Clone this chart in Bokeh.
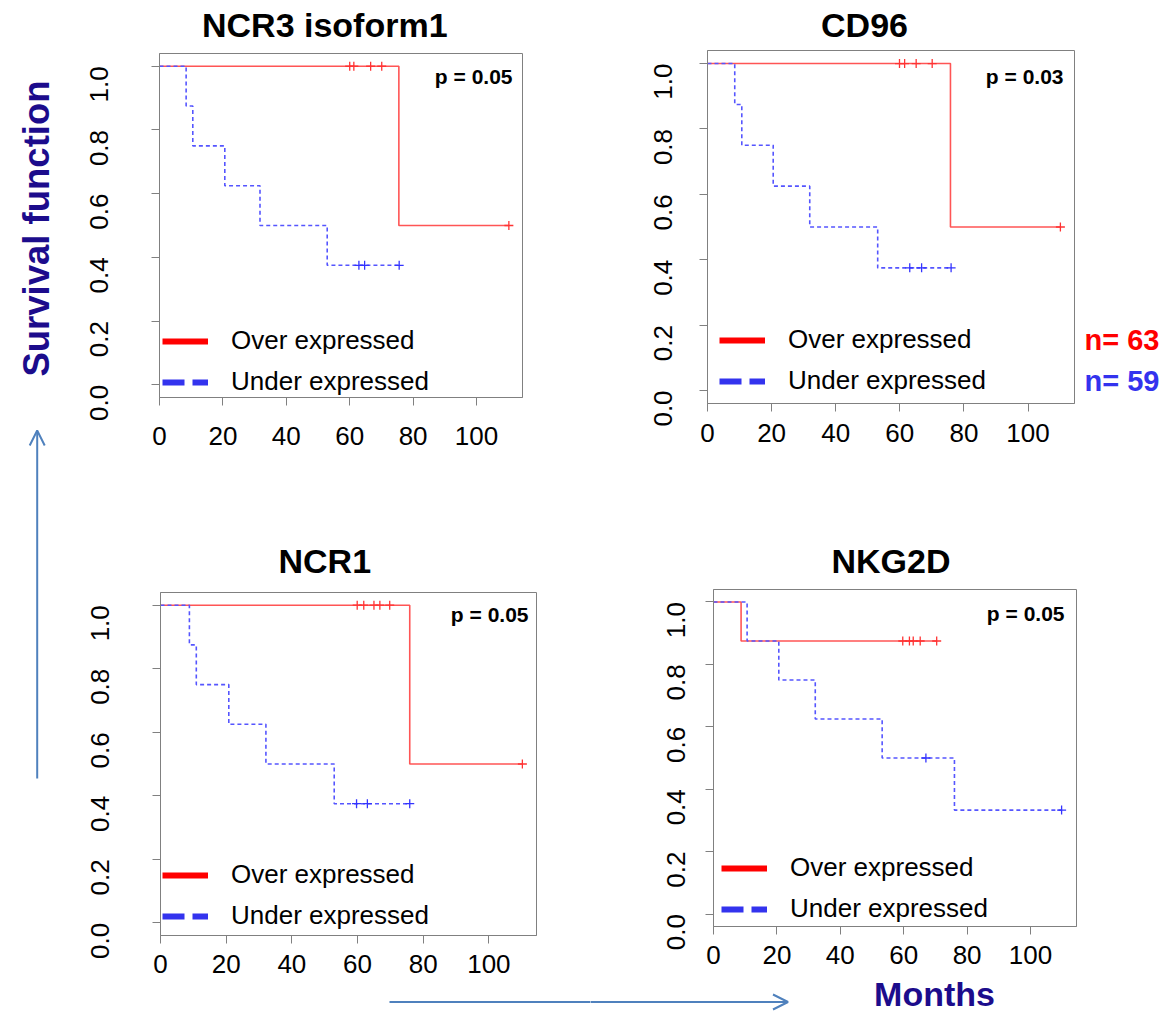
import numpy as np
from bokeh.plotting import figure
from bokeh.models import (Range1d, FixedTicker, Label, Legend, LegendItem, Arrow,
                          OpenHead, PrintfTickFormatter)
from bokeh.layouts import row, column
from bokeh.embed import file_html
from bokeh.resources import INLINE

# ---------------- data ----------------
titles = ["NCR3  isoform1", "CD96", "NCR1", "NKG2D"]
p_values = ["p = 0.05", "p = 0.03", "p = 0.05", "p = 0.05"]
legend_labels = ["Over expressed", "Under expressed"]
x_ticks = [0, 20, 40, 60, 80, 100]
y_ticks = [0.0, 0.2, 0.4, 0.6, 0.8, 1.0]
n_labels = ["n= 63", "n= 59"]
y_title = "Survival function"
x_title = "Months"

# NCR3 isoform1
ncr3_over_t = [0, 75.5, 110.2]
ncr3_over_s = [1.0, 0.5, 0.5]
ncr3_over_cens = [60.0, 61.3, 66.6, 70.1, 110.2]
ncr3_under_t = [0, 8.4, 10.5, 20.6, 31.7, 52.9, 75.6]
ncr3_under_s = [1.0, 0.875, 0.75, 0.625, 0.5, 0.375, 0.375]
ncr3_under_cens = [62.9, 64.7, 75.6]

# CD96
cd96_over_t = [0, 75.8, 110.1]
cd96_over_s = [1.0, 0.5, 0.5]
cd96_over_cens = [59.9, 61.5, 65.1, 70.1, 110.1]
cd96_under_t = [0, 8.5, 10.7, 20.5, 31.9, 53.1, 76.0]
cd96_under_s = [1.0, 0.875, 0.75, 0.625, 0.5, 0.375, 0.375]
cd96_under_cens = [63.1, 66.8, 76.0]

# NCR1
ncr1_over_t = [0, 75.9, 110.2]
ncr1_over_s = [1.0, 0.5, 0.5]
ncr1_over_cens = [59.9, 61.9, 65.0, 66.8, 69.8, 110.2]
ncr1_under_t = [0, 8.8, 10.9, 20.8, 32.1, 52.9, 75.9]
ncr1_under_s = [1.0, 0.875, 0.75, 0.625, 0.5, 0.375, 0.375]
ncr1_under_cens = [59.7, 63.0, 75.9]

# NKG2D
nkg2d_over_t = [0, 8.7, 70.4]
nkg2d_over_s = [1.0, 0.875, 0.875]
nkg2d_over_cens = [59.7, 61.8, 63.0, 65.2, 70.4]
nkg2d_under_t = [0, 10.6, 20.6, 32.1, 53.2, 76.0, 109.8]
nkg2d_under_s = [1.0, 0.875, 0.75, 0.625, 0.5, 0.333, 0.333]
nkg2d_under_cens = [67.0, 109.8]

curves = [
    (ncr3_over_t, ncr3_over_s, ncr3_over_cens, ncr3_under_t, ncr3_under_s, ncr3_under_cens),
    (cd96_over_t, cd96_over_s, cd96_over_cens, cd96_under_t, cd96_under_s, cd96_under_cens),
    (ncr1_over_t, ncr1_over_s, ncr1_over_cens, ncr1_under_t, ncr1_under_s, ncr1_under_cens),
    (nkg2d_over_t, nkg2d_over_s, nkg2d_over_cens, nkg2d_under_t, nkg2d_under_s, nkg2d_under_cens),
]

# ---------------- layout / style ----------------
XR = (0.0, 114.5)
YR = (-0.04, 1.04)
FONT = "Liberation Sans"
RED_LINE = "#ff5555"
BLUE_LINE = "#5555ff"
RED_MARK = "#ff3333"
BLUE_MARK = "#3333ff"
RED_LEG = "#ff0000"
BLUE_LEG = "#3333ee"
GREY = "#808080"
NAVY = "#1c0c8c"
ARROW_C = "#4f81bd"

TOP_H = 45           # strip holding the two upper titles
ROW1_END = 508
P3_BOTTOM = 984      # page y where the NCR1 canvas ends
P4_BOTTOM = 974      # page y where the NKG2D canvas ends
PAGE_H = 1012
MID_X = 590
RIGHT_X = 1080
PAGE_W = 1168

# page-pixel geometry: figure box, plot frame, label standoffs, legend offset, title placement
GEOM = [
    dict(fx=70, fy=TOP_H, w=MID_X - 70, h=ROW1_END - TOP_H, l=159, r=522, t=53, b=397,
         xs=21, ys=52, lx=3, ly=0, title=False),
    dict(fx=MID_X, fy=TOP_H, w=RIGHT_X - MID_X, h=ROW1_END - TOP_H, l=707, r=1074, t=50, b=403,
         xs=12, ys=36, lx=12, ly=7, title=False),
    dict(fx=70, fy=ROW1_END, w=MID_X - 70, h=P3_BOTTOM - ROW1_END, l=160, r=536, t=592, b=935,
         xs=11, ys=52, lx=2, ly=4, title=True, tl=278, ts=25),
    dict(fx=MID_X, fy=ROW1_END, w=RIGHT_X - MID_X, h=P4_BOTTOM - ROW1_END, l=713, r=1076, t=589,
         b=926, xs=11, ys=29, lx=8, ly=2, title=True, tl=831, ts=19),
]
# right edge / cap middle of the p-value text in page pixels
PVAL_POS = [(512, 76), (1063, 76), (528, 614), (1064, 613)]
# centre of the two upper titles (page pixels)
TOP_TITLE_POS = [(329, 24), (864, 24)]


def to_data(g, px, py):
    x = XR[0] + (px - g["l"]) / (g["r"] - g["l"]) * (XR[1] - XR[0])
    y = YR[1] - (py - g["t"]) / (g["b"] - g["t"]) * (YR[1] - YR[0])
    return x, y


def step_at(t, s, c):
    t = np.asarray(t, float)
    s = np.asarray(s, float)
    idx = np.searchsorted(t, np.asarray(c, float), side="right") - 1
    return s[idx]


def make_panel(i):
    g = GEOM[i]
    p = figure(width=g["w"], height=g["h"],
               x_range=Range1d(*XR), y_range=Range1d(*YR),
               output_backend="svg", toolbar_location=None,
               min_border_left=g["l"] - g["fx"], min_border_right=g["fx"] + g["w"] - g["r"],
               min_border_top=g["t"] - g["fy"], min_border_bottom=g["fy"] + g["h"] - g["b"])
    if g["title"]:
        p.title.text = titles[i]
        p.title.align = "left"
        p.title.offset = g["tl"] - g["l"]
        p.title.standoff = g["ts"]
        p.title.vertical_align = "bottom"
        p.title.text_font = FONT
        p.title.text_font_style = "bold"
        p.title.text_font_size = "34px"
        p.title.text_color = "black"

    p.grid.visible = False
    p.outline_line_color = GREY
    p.background_fill_color = "white"
    p.border_fill_color = "white"

    p.xaxis.ticker = FixedTicker(ticks=x_ticks, minor_ticks=[])
    p.yaxis.ticker = FixedTicker(ticks=y_ticks, minor_ticks=[])
    p.yaxis.formatter = PrintfTickFormatter(format="%.1f")
    p.yaxis.major_label_orientation = np.pi / 2
    for ax, so in ((p.xaxis, g["xs"]), (p.yaxis, g["ys"])):
        ax.axis_line_color = GREY
        ax.major_tick_line_color = GREY
        ax.major_tick_out = 8
        ax.major_tick_in = 0
        ax.minor_tick_out = 0
        ax.minor_tick_in = 0
        ax.major_label_text_font = FONT
        ax.major_label_text_font_size = "26px"
        ax.major_label_text_line_height = 1.0
        ax.major_label_text_color = "black"
        ax.major_label_standoff = so

    ot, os_, oc, ut, us, uc = curves[i]
    p.step(ot, os_, mode="after", line_color=RED_LINE, line_width=1.6)
    p.step(ut, us, mode="after", line_color=BLUE_LINE, line_width=1.6, line_dash="4 3")
    p.scatter(oc, step_at(ot, os_, oc), marker="cross", size=9, line_color=RED_MARK, line_width=1.3)
    p.scatter(uc, step_at(ut, us, uc), marker="cross", size=9, line_color=BLUE_MARK, line_width=1.3)

    # legend with thick sample lines (renderers hold no visible points)
    r_over = p.line([np.nan], [np.nan], line_color=RED_LEG, line_width=6)
    r_under = p.line([np.nan], [np.nan], line_color=BLUE_LEG, line_width=6, line_dash="22 8")
    leg = Legend(items=[LegendItem(label=legend_labels[0], renderers=[r_over]),
                        LegendItem(label=legend_labels[1], renderers=[r_under])],
                 location=(g["lx"], g["ly"]), margin=0, padding=0, spacing=10,
                 glyph_width=46, glyph_height=30, label_height=30, label_standoff=23,
                 label_text_font=FONT, label_text_font_size="26px", label_text_color="black",
                 background_fill_alpha=0, border_line_alpha=0)
    p.add_layout(leg)

    vx, vy = to_data(g, *PVAL_POS[i])
    p.add_layout(Label(x=vx, y=vy, text=p_values[i], text_align="right", text_baseline="middle",
                       text_font=FONT, text_font_style="bold", text_font_size="21px", text_color="black"))
    return p


panels = [make_panel(i) for i in range(4)]


def strip_fig(x0, x1, y0, y1):
    f = figure(width=x1 - x0, height=y1 - y0, x_range=Range1d(x0, x1), y_range=Range1d(y1, y0),
               output_backend="svg", toolbar_location=None, min_border=0,
               x_axis_location=None, y_axis_location=None)
    f.grid.visible = False
    f.outline_line_color = None
    return f


# top strip: titles of the upper panels
top = strip_fig(70, RIGHT_X, 0, TOP_H)
for k in range(2):
    tx, ty = TOP_TITLE_POS[k]
    top.add_layout(Label(x=tx, y=ty, text=titles[k], text_align="center", text_baseline="middle",
                         text_font=FONT, text_font_style="bold", text_font_size="34px",
                         text_color="black"))

# left strip: y title and vertical arrow (page-pixel coordinates)
left = strip_fig(0, 70, 0, PAGE_H)
left.add_layout(Label(x=36, y=228, text=y_title, angle=np.pi / 2, text_align="center",
                      text_baseline="middle", text_font=FONT, text_font_style="bold",
                      text_font_size="36.5px", text_color=NAVY))
left.add_layout(Arrow(end=OpenHead(size=15, line_color=ARROW_C, line_width=2),
                      x_start=36.7, y_start=778, x_end=36.7, y_end=430,
                      line_color=ARROW_C, line_width=2))

# right strip: group sizes
right = strip_fig(RIGHT_X, PAGE_W, 0, PAGE_H)
for txt, col, py in ((n_labels[0], RED_LEG, 339.5), (n_labels[1], BLUE_LEG, 380.5)):
    right.add_layout(Label(x=1084, y=py, text=txt, text_align="left", text_baseline="middle",
                           text_font=FONT, text_font_style="bold", text_font_size="29px",
                           text_color=col))

# strips under NCR1 and NKG2D: horizontal arrow (in two canvases) and x title
under3 = strip_fig(70, MID_X, P3_BOTTOM, PAGE_H)
under3.add_layout(Arrow(start=None, end=None, x_start=389, y_start=1001.5, x_end=600, y_end=1001.5,
                        line_color=ARROW_C, line_width=2))
under4 = strip_fig(MID_X, RIGHT_X, P4_BOTTOM, PAGE_H)
under4.add_layout(Arrow(end=OpenHead(size=15, line_color=ARROW_C, line_width=2),
                        x_start=580, y_start=1001.5, x_end=787.5, y_end=1001.5,
                        line_color=ARROW_C, line_width=2))
under4.add_layout(Label(x=934, y=993, text=x_title, text_align="center", text_baseline="middle",
                        text_font=FONT, text_font_style="bold", text_font_size="34px",
                        text_color=NAVY))

# every plot sits in its own sub-layout so that no frame alignment is applied
layout = row(
    column(left),
    column(
        row(top),
        row(column(panels[0]), column(panels[1])),
        row(column(column(panels[2]), row(under3)), column(column(panels[3]), row(under4))),
    ),
    column(right),
)

open("out.html", "w").write(file_html(layout, INLINE))
